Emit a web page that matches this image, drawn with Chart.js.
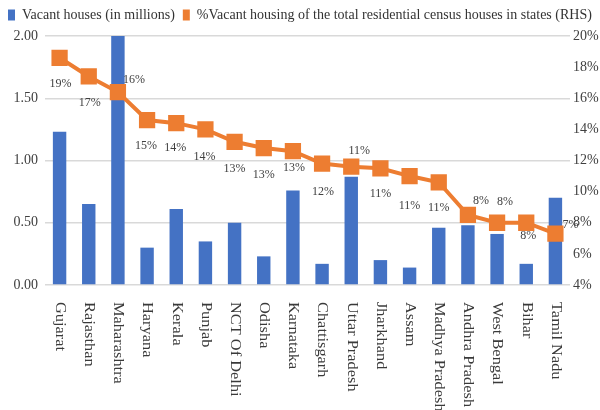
<!DOCTYPE html>
<html>
<head>
<meta charset="utf-8">
<script src="https://cdn.jsdelivr.net/npm/chart.js@4.4.1/dist/chart.umd.min.js"></script>
<style>
  html, body { margin: 0; padding: 0; background: #fff; }
  #wrap { width: 600px; height: 410px; }
</style>
</head>
<body>
<div id="wrap"><canvas id="vacantChart"></canvas></div>
<script>
const states = ['Gujarat','Rajasthan','Maharashtra','Haryana','Kerala','Punjab','NCT Of Delhi','Odisha','Karnataka',
  'Chattisgarh','Uttar Pradesh','Jharkhand','Assam','Madhya Pradesh','Andhra Pradesh','West Bengal','Bihar','Tamil Nadu'];
// vacant houses, millions (left axis)
const vacantHouses = [1.23,0.65,2.00,0.30,0.61,0.35,0.50,0.23,0.76,0.17,0.87,0.20,0.14,0.46,0.48,0.41,0.17,0.70];
// % vacant of total residential census houses (right axis)
const vacantShare = [18.6,17.4,16.4,14.6,14.4,14.0,13.2,12.8,12.6,11.8,11.6,11.5,11.0,10.6,8.5,8.0,8.0,7.3];
const shareLabels = ['19%','17%','16%','15%','14%','14%','13%','13%','13%','12%','11%','11%','11%','11%','8%','8%','8%','7%'];
const leftAxis = { min: 0, max: 2, step: 0.5 };
const rightAxis = { min: 4, max: 20, step: 2 };

const blue = '#4472C4';
const orange = '#ED7D31';
const serif = '"Liberation Serif", "Times New Roman", serif';

// where each % label sits relative to its marker
const labelOffsets = [[1,26],[1,26],[16,-12],[-1,26],[-1,25],[-1,27],[0,27],[0,27],[1,17],[1,28],
  [8,-16],[0,26],[0,30],[0,26],[13,-14],[8,-21],[2,13],[15,-9]];

// x labels read top-to-bottom, so draw them by hand
const stateLabels = {
  id: 'stateLabels',
  afterDraw(chart) {
    const { ctx, chartArea, scales: { x } } = chart;
    ctx.save();
    ctx.fillStyle = '#3a3a3a';
    ctx.font = '14px ' + serif;
    ctx.textAlign = 'left';
    ctx.textBaseline = 'middle';
    states.forEach((s, i) => {
      ctx.save();
      ctx.translate(x.getPixelForValue(i), chartArea.bottom + 17);
      ctx.rotate(Math.PI / 2);
      ctx.scale(1.17, 1);
      ctx.fillText(s, 0, 0);
      ctx.restore();
    });
    ctx.restore();
  }
};

const shareValueLabels = {
  id: 'shareValueLabels',
  afterDatasetsDraw(chart) {
    const { ctx } = chart;
    const meta = chart.getDatasetMeta(1);
    ctx.save();
    ctx.fillStyle = '#404040';
    ctx.font = '12px ' + serif;
    ctx.textAlign = 'center';
    ctx.textBaseline = 'middle';
    meta.data.forEach((pt, i) => {
      const o = labelOffsets[i];
      ctx.fillText(shareLabels[i], pt.x + o[0], pt.y + o[1]);
    });
    ctx.restore();
  }
};

// a bit more room under the legend
const legendGap = {
  id: 'legendGap',
  afterInit(chart) {
    const fit = chart.legend.fit;
    chart.legend.fit = function() {
      fit.call(this);
      this.height += 4;
    };
  }
};

const chart = new Chart(document.getElementById('vacantChart'), {
  data: {
    labels: states,
    datasets: [{
      type: 'bar',
      label: 'Vacant houses (in millions)',
      data: vacantHouses,
      backgroundColor: blue,
      borderWidth: 0,
      barPercentage: 0.46,
      categoryPercentage: 1,
      yAxisID: 'y',
      order: 2
    }, {
      type: 'line',
      label: '%Vacant housing of the total residential census houses in states (RHS)',
      data: vacantShare,
      borderColor: orange,
      backgroundColor: orange,
      borderWidth: 4,
      pointStyle: 'rect',
      pointRadius: 11.5,
      pointBackgroundColor: orange,
      pointBorderWidth: 0,
      tension: 0,
      yAxisID: 'y1',
      order: 1
    }]
  },
  options: {
    responsive: true,
    maintainAspectRatio: false,
    animation: false,
    layout: { padding: { top: 0, bottom: 125, left: 0, right: 0 } },
    scales: {
      x: { display: false, offset: true },
      y: {
        position: 'left',
        min: leftAxis.min,
        max: leftAxis.max,
        border: { display: false },
        grid: { color: '#d9d9d9', lineWidth: 1.5, drawTicks: false },
        ticks: {
          stepSize: leftAxis.step,
          padding: 7,
          color: '#404040',
          font: { family: serif, size: 14 },
          callback: v => v.toFixed(2)
        },
        afterFit: s => { s.width = 45; }
      },
      y1: {
        position: 'right',
        min: rightAxis.min,
        max: rightAxis.max,
        border: { display: false },
        grid: { drawOnChartArea: false, drawTicks: false },
        ticks: {
          stepSize: rightAxis.step,
          padding: 3,
          color: '#404040',
          font: { family: serif, size: 14 },
          callback: v => v + '%'
        },
        afterFit: s => { s.width = 30; }
      }
    },
    plugins: {
      legend: {
        position: 'top',
        align: 'start',
        labels: {
          boxWidth: 7,
          boxHeight: 11,
          padding: 8,
          color: '#333',
          font: { family: serif, size: 14 },
          generateLabels(chart) {
            const items = Chart.defaults.plugins.legend.labels.generateLabels(chart);
            items.forEach(it => {
              const c = it.datasetIndex === 0 ? blue : orange;
              it.fillStyle = c;
              it.strokeStyle = c;
              it.lineWidth = 0;
            });
            return items.sort((a, b) => a.datasetIndex - b.datasetIndex);
          }
        }
      },
      tooltip: { enabled: false }
    }
  },
  plugins: [stateLabels, shareValueLabels, legendGap]
});
</script>
</body>
</html>
